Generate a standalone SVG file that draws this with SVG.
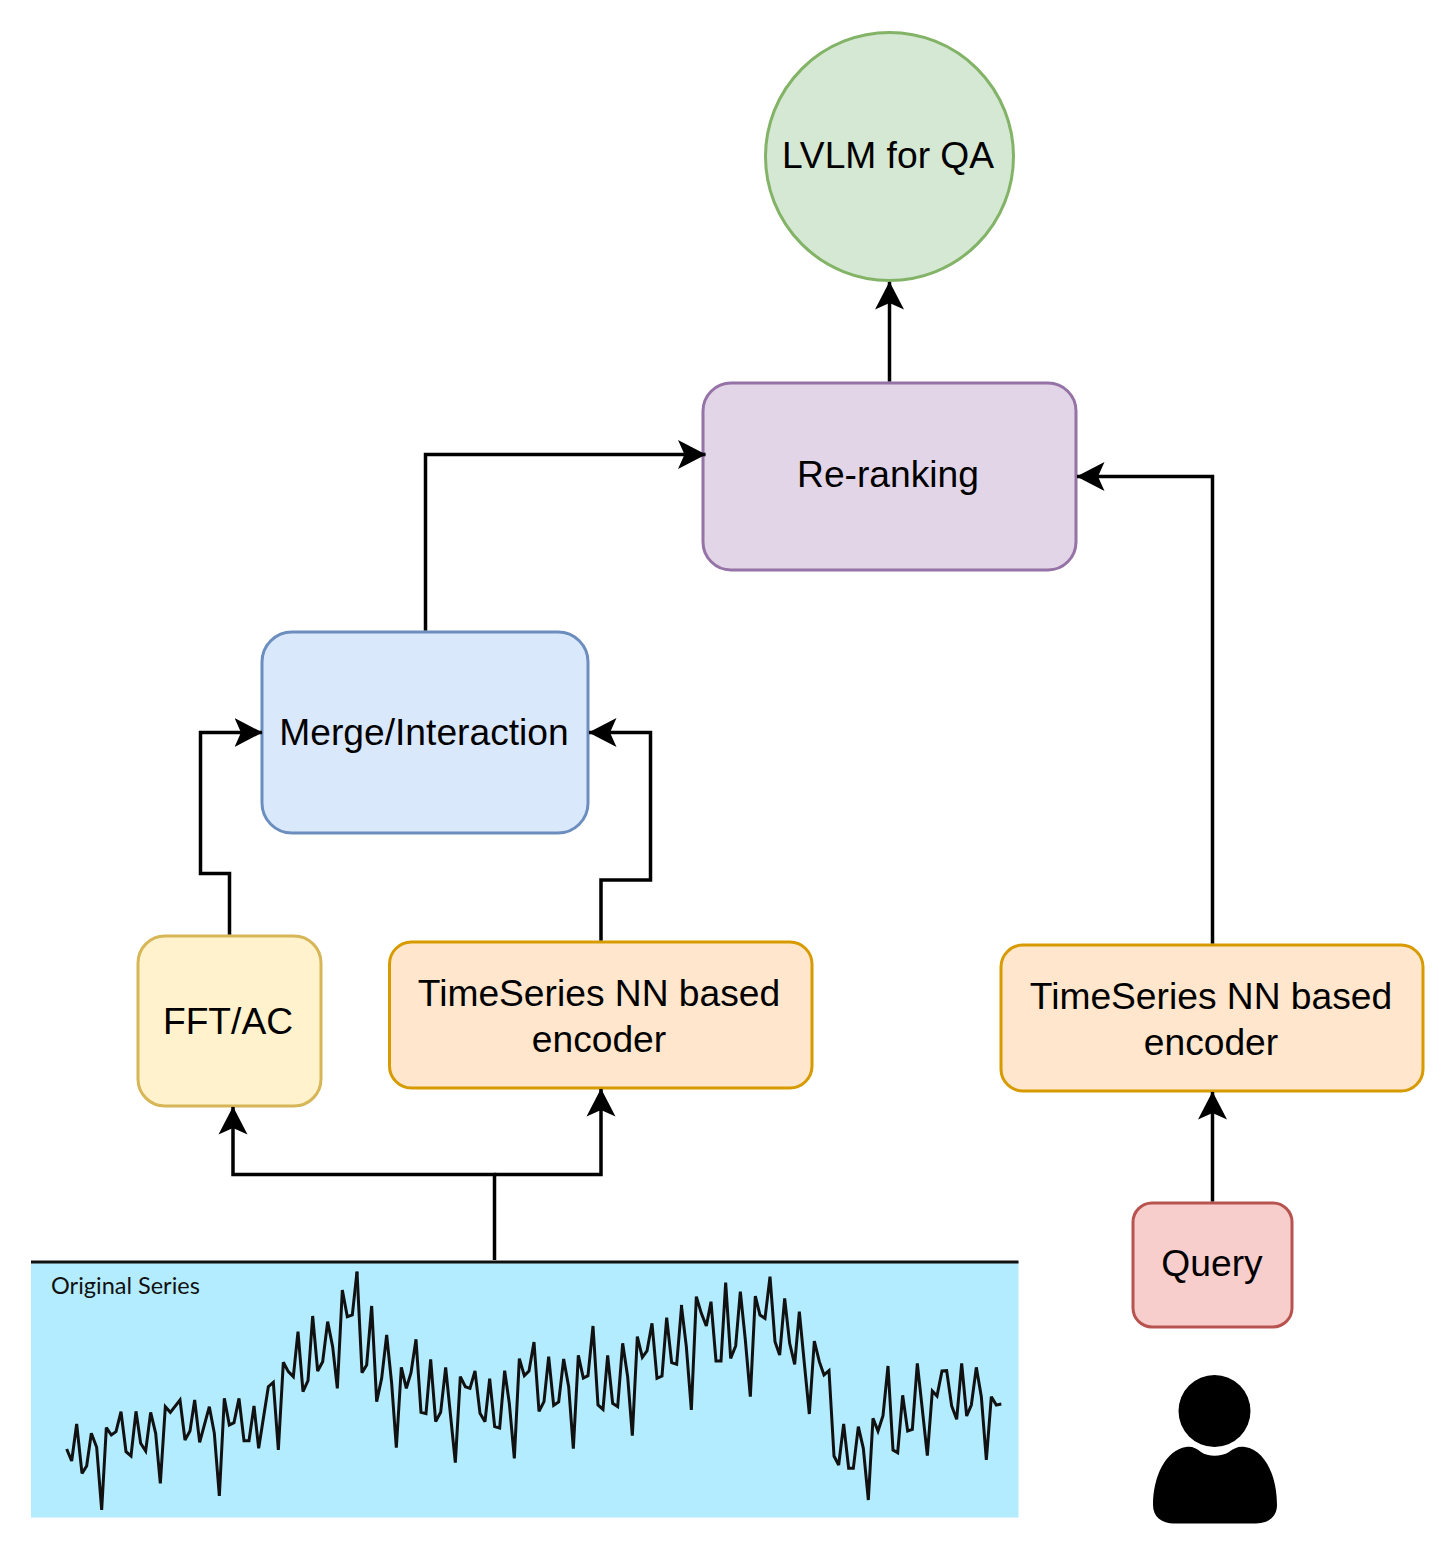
<svg xmlns="http://www.w3.org/2000/svg" width="1456" height="1558" viewBox="0 0 1456 1558">
<style>
.n{stroke-width:3}
.t{font-family:"Liberation Sans",Arial,sans-serif;font-size:37.2px;fill:#000;text-anchor:middle}
.c{fill:none;stroke:#000;stroke-width:3.5}
.s{fill:none;stroke:#111;stroke-width:9;stroke-linejoin:miter;stroke-miterlimit:3}
</style>
<defs>
<marker id="a" markerUnits="userSpaceOnUse" markerWidth="34" markerHeight="34" refX="27.500" refY="17" orient="auto">
<path d="M0 2.500 L28 17 L0 31.500 L6.500 17 Z" fill="#000"/>
</marker>
</defs>
<rect width="1456" height="1558" fill="#fff"/>
<g id="series">
<rect x="31" y="1262" width="987.500" height="255.500" fill="#b3ecff"/>
<path d="M31 1262H1018.500" stroke="#111" stroke-width="2.800" fill="none"/>
<text x="51" y="1293.500" font-family="Lato,'Open Sans',sans-serif" font-size="23.500" fill="#111">Original Series</text>
<polyline class="s" transform="translate(20,1250) scale(.33333)" points="140,597 155,633 170,522 186,670 200,648 214,550 230,592 245,780 259,533 274,555 288,545 303,485 318,605 333,618 348,484 362,580 377,603 392,487 407,550 421,700 436,470 451,487 480,450 495,570 510,543 524,450 539,577 568,470 583,550 598,738 613,445 628,525 642,518 657,445 672,572 687,572 702,468 716,595 745,410 760,397 775,600 790,337 805,365 820,380 834,245 849,425 864,392 878,198 893,363 908,335 923,215 938,290 952,415 967,120 982,200 997,195 1011,65"/>
<polyline class="s" transform="translate(350,1250) scale(.33333)" points="21,65 36,368 50,345 65,168 80,455 95,385 110,255 125,400 139,593 154,352 169,415 183,368 198,268 213,487 228,491 242,328 257,515 272,487 287,352 316,638 331,380 346,410 360,415 375,363 390,490 405,515 419,386 434,530 449,534 464,362 478,460 493,625 508,326 523,377 537,363 552,276 567,484 582,455 596,320 611,466 626,456 641,327 656,410 670,596 685,316 700,384 714,377 729,228 744,465 759,478 773,316 788,460 803,470 818,280 833,380 847,557 862,260 877,322 891,303 906,220 921,385 936,378 950,203 965,338 980,343 995,165"/>
<polyline class="s" transform="translate(680,1250) scale(.33333)" points="4,165 19,290 34,480 49,140 64,190 79,228 93,155 108,333 123,333 137,98 152,325 167,288 181,125 196,270 211,440 226,138 240,195 255,205 270,80 285,275 299,315 314,145 329,280 344,343 358,185 373,340 388,492 403,273 418,335 432,375 447,362 462,618 476,645 491,522 506,655 520,655 535,530 550,595 565,750 579,505 594,543 609,497 624,348 639,600 653,608 668,436 683,543 697,538 712,340 742,617 757,423 771,438 786,363 800,362 815,468 830,508 845,340 860,498 874,465 889,352 904,440 919,630 934,440 949,465 964,462"/>
</g>
<g id="lvlm"><circle class="n" cx="889.500" cy="156.500" r="124" fill="#d5e8d4" stroke="#82b366"/><text class="t" x="888" y="167.500">LVLM for QA</text></g>
<g id="rerank"><rect class="n" x="703" y="383" width="373" height="187" rx="28" fill="#e1d5e7" stroke="#9673a6"/><text class="t" x="888" y="487">Re-ranking</text></g>
<g id="merge"><rect class="n" x="262" y="632" width="326" height="201" rx="30" fill="#dae8fc" stroke="#6c8ebf"/><text class="t" x="424" y="745">Merge/Interaction</text></g>
<g id="fft"><rect class="n" x="138" y="936" width="183" height="170" rx="27" fill="#fff2cc" stroke="#d6b656"/><text class="t" x="228" y="1034">FFT/AC</text></g>
<g id="enc1"><rect class="n" x="389.500" y="942" width="422.500" height="146" rx="22" fill="#ffe6cc" stroke="#d79b00"/><text class="t" x="599" y="1006">TimeSeries NN based</text><text class="t" x="599" y="1052">encoder</text></g>
<g id="enc2"><rect class="n" x="1001" y="945" width="422" height="146" rx="22" fill="#ffe6cc" stroke="#d79b00"/><text class="t" x="1211" y="1009">TimeSeries NN based</text><text class="t" x="1211" y="1055">encoder</text></g>
<g id="query"><rect class="n" x="1133" y="1203" width="159" height="124" rx="19" fill="#f8cecc" stroke="#b85450"/><text class="t" x="1212" y="1276">Query</text></g>
<g id="user">
<circle cx="1214.500" cy="1411" r="36"/>
<path d="M1186 1447C1192 1446 1196 1448 1201 1452C1208 1457 1221 1457 1229 1452C1234 1448 1239 1446 1245 1447C1265 1450 1277 1476 1277 1505C1277 1517 1268 1523.500 1256 1523.500H1174C1162 1523.500 1153 1517 1153 1505C1153 1476 1166 1450 1186 1447Z"/>
</g>
<g id="connectors">
<path class="c" d="M889.500 381.500V282" marker-end="url(#a)"/>
<path class="c" d="M425.500 630.500V454.500H705.500" marker-end="url(#a)"/>
<path class="c" d="M1212.500 943.500V476.500H1077" marker-end="url(#a)"/>
<path class="c" d="M229.500 934.500V873.500H200.500V732.500H262" marker-end="url(#a)"/>
<path class="c" d="M601 940.500V880H650.500V732.500H589" marker-end="url(#a)"/>
<path class="c" d="M494.500 1260V1174.500H233V1107" marker-end="url(#a)"/>
<path class="c" d="M494.500 1174.500H601V1089" marker-end="url(#a)"/>
<path class="c" d="M1212.500 1201.500V1092" marker-end="url(#a)"/>
</g>
</svg>
